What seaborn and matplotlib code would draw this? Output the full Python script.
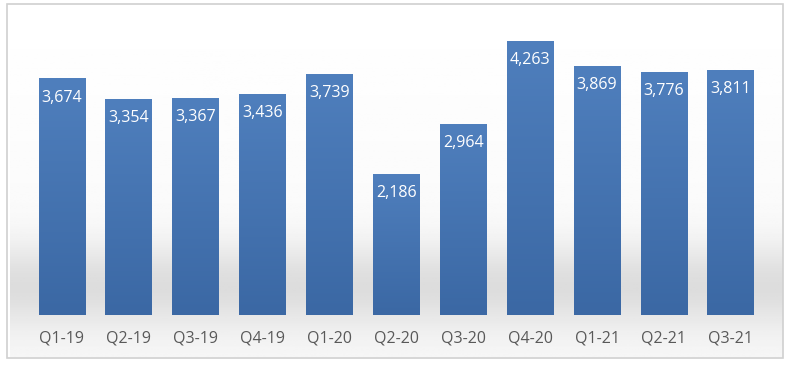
import numpy as np
import pandas as pd
import matplotlib
matplotlib.use("Agg")
import matplotlib.pyplot as plt
import seaborn as sns
from matplotlib.patches import Rectangle
from matplotlib.colors import LinearSegmentedColormap

quarters = ["Q1-19", "Q2-19", "Q3-19", "Q4-19", "Q1-20", "Q2-20",
            "Q3-20", "Q4-20", "Q1-21", "Q2-21", "Q3-21"]
values = [3674, 3354, 3367, 3436, 3739, 2186, 2964, 4263, 3869, 3776, 3811]

sns.set_theme(style="white")
plt.rcParams["font.family"] = ["Open Sans", "DejaVu Sans"]

df = pd.DataFrame({"quarter": quarters, "value": values})

fig = plt.figure(figsize=(7.92, 3.66), dpi=100)
fig.patch.set_facecolor("white")

# soft grey band behind the bars (white at top, grey near the base)
bg = fig.add_axes([0.012, 0.025, 0.976, 0.962], zorder=0)
rows = np.linspace(0, 1, 200)
shade = np.clip(1 - 0.11 * np.exp(-((rows - 0.80) / 0.12) ** 2)
                - 0.03 * rows, 0, 1)
img = np.repeat(shade[:, None], 2, axis=1)
bg.imshow(img, cmap="gray", vmin=0, vmax=1, aspect="auto",
          extent=[0, 1, 1, 0])
bg.set_axis_off()

ax = fig.add_axes([0.036, 0.139, 0.929, 0.792], zorder=1)
ax.patch.set_alpha(0)
sns.barplot(data=df, x="quarter", y="value", color="#4a7ab9",
            saturation=1, width=0.70, edgecolor="none", linewidth=0, ax=ax)
ax.set_ylim(0, 4500)
ax.set_xlim(-0.5, len(quarters) - 0.5)

# vertical gradient fill on each bar
bar_cmap = LinearSegmentedColormap.from_list("bar", ["#3b68a4", "#4f7fbd"])
grad = np.linspace(0, 1, 100)[:, None]
for p in ax.patches:
    x0, w, h = p.get_x(), p.get_width(), p.get_height()
    im = ax.imshow(grad, cmap=bar_cmap, aspect="auto", origin="lower",
                   extent=[x0, x0 + w, 0, h], zorder=2)
    im.set_clip_path(p)
ax.set_xlim(-0.5, len(quarters) - 0.5)
ax.set_ylim(0, 4500)

for p, v in zip(ax.patches, values):
    ax.annotate(f"{v:,}", (p.get_x() + p.get_width() / 2, v),
                xytext=(0, -8), textcoords="offset points",
                ha="center", va="top", color="white", fontsize=11.5,
                zorder=3)

ax.set_xlabel("")
ax.set_ylabel("")
ax.set_yticks([])
ax.tick_params(axis="x", length=0, pad=11, labelsize=11.5, labelcolor="#595959")
sns.despine(ax=ax, left=True, bottom=True)

# chart border
fig.patches.append(Rectangle((7 / 792, 1 - 358 / 366), 776 / 792, 354 / 366,
                             transform=fig.transFigure, fill=False,
                             edgecolor="#d0d0d0", linewidth=1.2, zorder=5))

fig.savefig("out.png", dpi=100)
